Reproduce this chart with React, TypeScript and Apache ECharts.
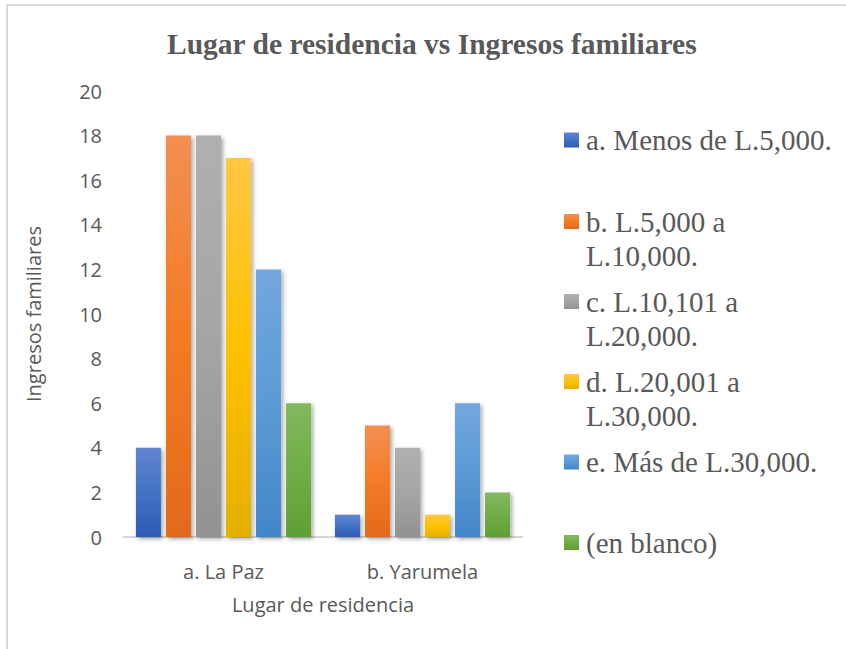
import React, { useEffect, useRef } from 'react';
import * as echarts from 'echarts';

const categories = ['a. La Paz', 'b. Yarumela'];
const seriesNames = [
  'a. Menos de L.5,000.',
  'b. L.5,000 a L.10,000.',
  'c. L.10,101 a L.20,000.',
  'd. L.20,001 a L.30,000.',
  'e. Más de L.30,000.',
  '(en blanco)',
];
const legendLines = [
  ['a. Menos de L.5,000.'],
  ['b. L.5,000 a', 'L.10,000.'],
  ['c. L.10,101 a', 'L.20,000.'],
  ['d. L.20,001 a', 'L.30,000.'],
  ['e. Más de L.30,000.'],
  ['(en blanco)'],
];
const menosDe5000 = [4, 1];
const de5000a10000 = [18, 5];
const de10101a20000 = [18, 4];
const de20001a30000 = [17, 1];
const masDe30000 = [12, 6];
const enBlanco = [6, 2];
const seriesValues = [menosDe5000, de5000a10000, de10101a20000, de20001a30000, masDe30000, enBlanco];

const yMin = 0;
const yMax = 20;
const yInterval = 2;

const gradientStops = [
  ['#6185d0', '#4472c4', '#2d5bb5'],
  ['#f28f52', '#f47b25', '#e3691a'],
  ['#b0b0b0', '#a5a5a5', '#929292'],
  ['#ffc744', '#ffc000', '#e4b000'],
  ['#72a7de', '#5b9bd5', '#4286c8'],
  ['#82b95f', '#70ad47', '#5fa033'],
];

const legendIconCenters = [140, 221.5, 301.5, 381.5, 462, 542.5];

export default function App() {
  const ref = useRef<HTMLDivElement>(null);
  useEffect(() => {
    if (!ref.current) return;
    const chart = echarts.init(ref.current, undefined, { renderer: 'svg' });
    const lineH = 34;
    const sansFont = '"Open Sans", sans-serif';
    const serifFont = '"Liberation Serif", "Times New Roman", serif';

    const series = seriesNames.map((name, i) => ({
      name,
      type: 'bar',
      data: seriesValues[i],
      barGap: '20%',
      barCategoryGap: '12%',
      itemStyle: {
        color: new echarts.graphic.LinearGradient(0, 0, 0, 1, [
          { offset: 0, color: gradientStops[i][0] },
          { offset: 0.5, color: gradientStops[i][1] },
          { offset: 1, color: gradientStops[i][2] },
        ]),
        shadowColor: 'rgba(0,0,0,0.35)',
        shadowBlur: 4,
        shadowOffsetX: 2,
        shadowOffsetY: 2,
      },
    }));

    const legends = seriesNames.map((name, i) => {
      const lines = legendLines[i];
      const text = lines.length > 1 ? ' \n' + lines.join('\n') : lines[0];
      const nLines = lines.length > 1 ? 3 : 1;
      const boxH = nLines * lineH;
      const top = legendIconCenters[i] - boxH / 2;
      return {
        data: [{ name, icon: 'rect' }],
        orient: 'vertical',
        left: 564,
        top,
        padding: 0,
        itemWidth: 15,
        itemHeight: 15,
        formatter: () => text,
        textStyle: {
          fontFamily: serifFont,
          fontSize: 29,
          color: '#595959',
          lineHeight: lineH,
          padding: [0, 0, 0, 2],
        },
      };
    });

    chart.setOption({
      animation: false,
      backgroundColor: '#ffffff',
      title: {
        text: 'Lugar de residencia vs Ingresos familiares',
        left: 162,
        top: 24,
        padding: 5,
        textStyle: {
          fontFamily: serifFont,
          fontWeight: 'bold',
          fontSize: 29.5,
          color: '#595959',
        },
      },
      graphic: [
        {
          type: 'rect',
          shape: { x: 7, y: 5, width: 1000, height: 1000 },
          style: { fill: 'none', stroke: '#d9d9d9', lineWidth: 2 },
          silent: true,
          z: -1,
        },
      ],
      legend: legends,
      grid: { left: 124, right: 324, top: 91, bottom: 112 },
      xAxis: {
        type: 'category',
        data: categories,
        name: 'Lugar de residencia',
        nameLocation: 'middle',
        nameGap: 57,
        nameTextStyle: { fontFamily: sansFont, fontSize: 20, color: '#595959' },
        axisLine: { lineStyle: { color: '#d4d4d4', width: 2 } },
        axisTick: { show: false },
        axisLabel: { fontFamily: sansFont, fontSize: 20, color: '#595959', margin: 24 },
      },
      yAxis: {
        type: 'value',
        min: yMin,
        max: yMax,
        interval: yInterval,
        name: 'Ingresos familiares',
        nameLocation: 'middle',
        nameGap: 81,
        nameTextStyle: { fontFamily: sansFont, fontSize: 20, color: '#595959' },
        axisLine: { show: false },
        axisTick: { show: false },
        axisLabel: { fontFamily: sansFont, fontSize: 20, color: '#595959', margin: 22 },
        splitLine: {
          lineStyle: {
            color: '#d4d4d4',
            width: 1.5,
            shadowColor: 'rgba(0,0,0,0.15)',
            shadowBlur: 2,
            shadowOffsetY: 1,
          },
        },
      },
      series,
    });
    return () => chart.dispose();
  }, []);
  return (
    <div
      ref={ref}
      style={{ position: 'fixed', left: 0, top: 0, width: 846, height: 649 }}
    />
  );
}
